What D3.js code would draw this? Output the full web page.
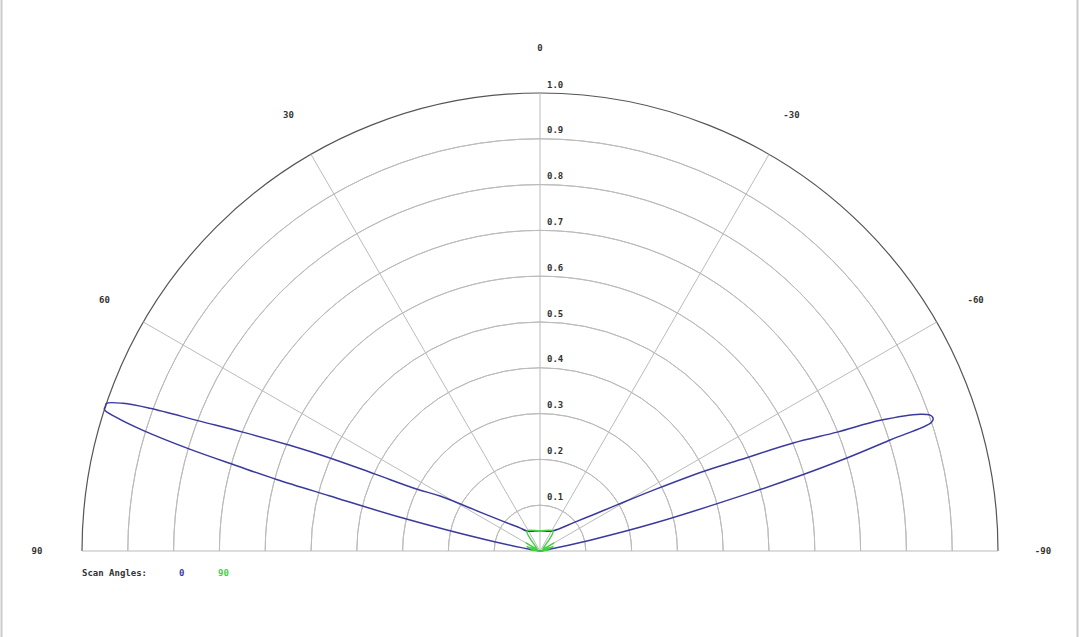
<!DOCTYPE html>
<html>
<head>
<meta charset="utf-8">
<script src="https://cdn.jsdelivr.net/npm/d3@7"></script>
<style>
  body { margin: 0; background: #fff; }
  text { font-family: "DejaVu Sans Mono", monospace; font-size: 9px; font-weight: bold; fill: #333; }
</style>
</head>
<body>
<div id="root"></div>
<script>
const width = 1080;
const height = 637;

const cx = 540;
const cy = 551;
const radius = 458;

// rings and spokes
const ringValues = [0.1, 0.2, 0.3, 0.4, 0.5, 0.6, 0.7, 0.8, 0.9, 1.0];
const spokeAngles = [90, 60, 30, 0, -30, -60, -90];

// scan angle 0 (blue), angle in degrees (positive = left), normalised magnitude
const scan0Angles = [90, 82, 78.3, 76.5, 75.3, 74.8, 74.3, 73.8, 73.1, 72.5, 72.0, 71.6, 71.2,
  70.5, 69.9, 69.1, 68.2, 67.1, 66.1, 65.0, 63.3, 61.2, 57.0, 50.4, 41, 33, 0, -31,
  -50.4, -56.1, -59.1, -62.0, -64.1, -65.5, -66.9, -68.2, -69.0, -70.2, -70.8, -71.3, -71.8,
  -72.4, -73.2, -73.9, -74.5, -76.3, -77.8, -80, -90];
const scan0Values = [0, 0.01, 0.118, 0.308, 0.476, 0.596, 0.688, 0.795, 0.906, 0.97, 1.0, 1.0, 1.0,
  0.966, 0.907, 0.795, 0.699, 0.593, 0.50, 0.397, 0.3, 0.249, 0.156, 0.099, 0.067, 0.052, 0.044, 0.051,
  0.099, 0.145, 0.196, 0.29, 0.4, 0.48, 0.601, 0.699, 0.796, 0.882, 0.902, 0.906, 0.9,
  0.802, 0.691, 0.584, 0.483, 0.26, 0.112, 0.01, 0];

// scan angle 90 (green)
const scan90Angles = [90, 84, 78, 72, 66, 60, 54, 46, 33, 0, -33, -46, -54, -60, -66, -72, -78, -84, -90];
const scan90Values = [0, 0.02, 0.004, 0.03, 0.006, 0.035, 0.008, 0.012, 0.052, 0.044, 0.052, 0.012, 0.008, 0.035, 0.006, 0.03, 0.004, 0.02, 0];

const legendLabels = ["0", "90"];
const colors = ["#3a3a9e", "#44d044"];

const svg = d3.select("#root").append("svg")
  .attr("width", width)
  .attr("height", height);

// page frame lines
svg.append("line").attr("x1", 1.5).attr("x2", 1.5).attr("y1", 0).attr("y2", height)
  .attr("stroke", "#ccc").attr("stroke-width", 2);
svg.append("line").attr("x1", 1077.5).attr("x2", 1077.5).attr("y1", 0).attr("y2", height)
  .attr("stroke", "#ccc").attr("stroke-width", 2);

const r = d3.scaleLinear().domain([0, 1]).range([0, radius]);
const toRad = a => -a * Math.PI / 180;

const g = svg.append("g").attr("transform", `translate(${cx},${cy})`);

// rings
const arc = d3.arc()
  .innerRadius(d => r(d))
  .outerRadius(d => r(d))
  .startAngle(-Math.PI / 2)
  .endAngle(Math.PI / 2);

g.selectAll("path.ring")
  .data(ringValues)
  .enter()
  .append("path")
  .attr("class", "ring")
  .attr("d", arc)
  .attr("fill", "none")
  .attr("stroke", d => d === 1.0 ? "#555" : "#bbb")
  .attr("stroke-width", d => d === 1.0 ? 1.2 : 1);

// spokes
g.selectAll("line.spoke")
  .data(spokeAngles)
  .enter()
  .append("line")
  .attr("class", "spoke")
  .attr("x1", 0).attr("y1", 0)
  .attr("x2", d => r(1) * Math.sin(toRad(d)))
  .attr("y2", d => -r(1) * Math.cos(toRad(d)))
  .attr("stroke", "#bbb")
  .attr("stroke-width", 1);

// ring labels
g.selectAll("text.rlabel")
  .data(ringValues)
  .enter()
  .append("text")
  .attr("class", "rlabel")
  .attr("x", 7)
  .attr("y", d => -r(d) - 5.5)
  .text(d => d.toFixed(1));

// angle labels
g.selectAll("text.alabel")
  .data(spokeAngles)
  .enter()
  .append("text")
  .attr("class", "alabel")
  .attr("x", d => (radius + 45) * Math.sin(toRad(d)))
  .attr("y", d => -(radius + 45) * Math.cos(toRad(d)))
  .attr("text-anchor", "middle")
  .attr("dominant-baseline", "central")
  .text(d => d);

// patterns
const line = d3.lineRadial()
  .angle(d => toRad(d[0]))
  .radius(d => r(d[1]))
  .curve(d3.curveCatmullRom.alpha(0.5));

const series = [
  d3.zip(scan0Angles, scan0Values),
  d3.zip(scan90Angles, scan90Values)
];

g.selectAll("path.pattern")
  .data(series)
  .enter()
  .append("path")
  .attr("class", "pattern")
  .attr("d", line)
  .attr("fill", "none")
  .attr("stroke", (d, i) => colors[i])
  .attr("stroke-width", 1.5)
  .attr("stroke-linejoin", "round");

// legend
const legend = svg.append("g").attr("id", "legend");
legend.append("text").attr("x", 82).attr("y", 576).text("Scan Angles:");
legend.selectAll("text.item")
  .data(legendLabels)
  .enter()
  .append("text")
  .attr("class", "item")
  .attr("x", (d, i) => 179 + i * 39)
  .attr("y", 576)
  .style("fill", (d, i) => colors[i])
  .text(d => d);
</script>
</body>
</html>
